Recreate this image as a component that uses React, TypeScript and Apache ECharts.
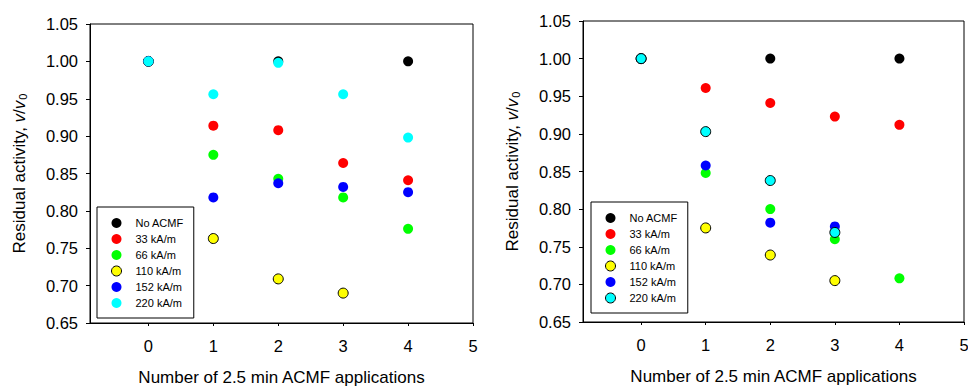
import React, { useEffect, useRef } from "react";
import * as echarts from "echarts";

const seriesNames = ["No ACMF", "33 kA/m", "66 kA/m", "110 kA/m", "152 kA/m", "220 kA/m"];
const seriesColors = ["#000000", "#ff0000", "#00ff00", "#ffff00", "#0000ff", "#00ffff"];
const xTicks = [0, 1, 2, 3, 4, 5];

// Left panel
const leftNoACMF = [[0, 1.0], [2, 1.0], [4, 1.0]];
const left33 = [[0, 1.0], [1, 0.914], [2, 0.908], [3, 0.864], [4, 0.841]];
const left66 = [[0, 1.0], [1, 0.875], [2, 0.843], [3, 0.818], [4, 0.776]];
const left110 = [[0, 1.0], [1, 0.763], [2, 0.709], [3, 0.69]];
const left152 = [[0, 1.0], [1, 0.818], [2, 0.837], [3, 0.832], [4, 0.825]];
const left220 = [[0, 1.0], [1, 0.956], [2, 0.998], [3, 0.956], [4, 0.898]];
const leftBordered = [false, false, false, true, false, false];

// Right panel
const rightNoACMF = [[0, 1.0], [2, 1.0], [4, 1.0]];
const right33 = [[0, 1.0], [1, 0.961], [2, 0.941], [3, 0.923], [4, 0.912]];
const right66 = [[0, 1.0], [1, 0.848], [2, 0.8], [3, 0.76], [4, 0.708]];
const right110 = [[0, 1.0], [1, 0.775], [2, 0.739], [3, 0.705]];
const right152 = [[0, 1.0], [1, 0.858], [2, 0.782], [3, 0.777]];
const right220 = [[0, 1.0], [1, 0.903], [2, 0.838], [3, 0.769]];
const rightBordered = [false, false, false, true, false, true];

const FONT = "'Liberation Sans', Arial, sans-serif";

function buildOption(data: number[][][], bordered: boolean[], p: any) {
  return {
    animation: false,
    backgroundColor: "#ffffff",
    grid: {
      left: p.gridLeft,
      right: p.gridRight,
      top: p.gridTop,
      bottom: p.gridBottom,
      containLabel: false,
      outerBoundsMode: "none",
      show: true,
      borderColor: "#000",
      borderWidth: 1,
      backgroundColor: "transparent",
    },
    legend: {
      orient: "vertical",
      left: p.legendLeft,
      top: p.legendTop,
      borderColor: "#000",
      borderWidth: 1,
      padding: [10, 10, 9, 14],
      itemWidth: 10,
      itemHeight: 10,
      itemGap: 4,
      icon: "circle",
      selectedMode: false,
      formatter: "{t|{name}}",
      textStyle: {
        fontFamily: FONT,
        fontSize: 11,
        color: "#000",
        lineHeight: 12,
        rich: {
          t: { fontFamily: FONT, fontSize: 11, color: "#000", lineHeight: 12, padding: [0, 0, 0, 9] },
        },
      },
      data: seriesNames.map((n, i) => ({
        name: n,
        itemStyle: bordered[i]
          ? { color: seriesColors[i], borderColor: "#000", borderWidth: 1 }
          : { color: seriesColors[i], borderWidth: 0 },
      })),
    },
    xAxis: {
      type: "value",
      min: -0.9,
      max: 5,
      name: "Number of 2.5 min ACMF applications",
      nameLocation: "middle",
      nameGap: 46,
      nameTextStyle: { fontFamily: FONT, fontSize: 17, color: "#000" },
      splitLine: { show: false },
      axisLine: { show: true, onZero: false, lineStyle: { color: "#000", width: 1 } },
      axisTick: { show: true, inside: false, length: 3, lineStyle: { color: "#000" }, customValues: xTicks },
      axisLabel: {
        fontFamily: FONT,
        fontSize: 16.5,
        color: "#000",
        margin: 14,
        customValues: xTicks,
        formatter: (v: number) => String(v),
      },
    },
    yAxis: {
      type: "value",
      min: 0.65,
      max: 1.05,
      interval: 0.05,
      name: "{a|Residual activity, }{i|v}{a|/}{i|v}{s|0}",
      nameLocation: "middle",
      nameGap: p.yNameGap,
      nameTextStyle: {
        fontFamily: FONT,
        fontSize: 17,
        color: "#000",
        rich: {
          a: { fontFamily: FONT, fontSize: 17, color: "#000", lineHeight: 20, verticalAlign: "bottom" },
          i: { fontFamily: FONT, fontSize: 17, color: "#000", fontStyle: "italic", lineHeight: 20, verticalAlign: "bottom" },
          s: { fontFamily: FONT, fontSize: 11, color: "#000", lineHeight: 20, verticalAlign: "bottom", padding: [0, 0, 0, 1] },
        },
      },
      splitLine: { show: false },
      axisLine: { show: true, onZero: false, lineStyle: { color: "#000", width: 1 } },
      axisTick: { show: true, inside: false, length: 4, lineStyle: { color: "#000" } },
      axisLabel: {
        fontFamily: FONT,
        fontSize: 16.5,
        color: "#000",
        margin: 12,
        formatter: (v: number) => v.toFixed(2),
      },
    },
    series: data.map((d, i) => ({
      type: "scatter",
      name: seriesNames[i],
      data: d,
      symbol: "circle",
      symbolSize: 10,
      itemStyle: bordered[i]
        ? { color: seriesColors[i], borderColor: "#000", borderWidth: 1, opacity: 1 }
        : { color: seriesColors[i], borderWidth: 0, opacity: 1 },
      emphasis: { disabled: true },
      z: 2 + i,
    })),
  };
}

function Panel({ option }: { option: any }) {
  const ref = useRef<HTMLDivElement>(null);
  useEffect(() => {
    if (!ref.current) return;
    const chart = echarts.init(ref.current, undefined, { renderer: "svg" });
    chart.setOption(option);
    return () => chart.dispose();
  }, [option]);
  return <div ref={ref} style={{ width: 484, height: 387 }} />;
}

const leftOption = buildOption(
  [leftNoACMF, left33, left66, left110, left152, left220],
  leftBordered,
  { gridLeft: 90, gridRight: 11, gridTop: 24, gridBottom: 64, legendLeft: 97, legendTop: 207, yNameGap: 62 }
);
const rightOption = buildOption(
  [rightNoACMF, right33, right66, right110, right152, right220],
  rightBordered,
  { gridLeft: 99, gridRight: 4, gridTop: 21, gridBottom: 65, legendLeft: 107, legendTop: 202, yNameGap: 62 }
);

export default function App() {
  return (
    <div style={{ position: "absolute", left: 0, top: 0, width: 968, height: 387, display: "flex", background: "#fff" }}>
      <Panel option={leftOption} />
      <Panel option={rightOption} />
    </div>
  );
}
